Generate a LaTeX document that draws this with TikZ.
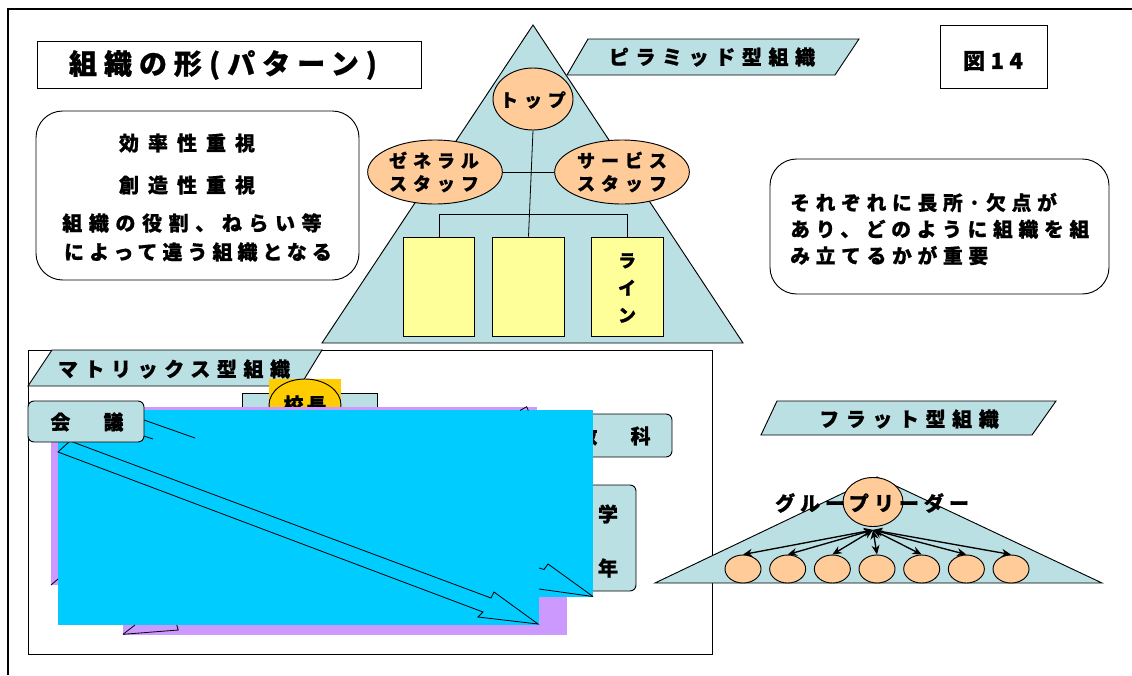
\documentclass[tikz,border=0pt]{standalone}
\usepackage{fontspec}
\newfontfamily\jpA{Noto Sans CJK JP}[LetterSpace=45,BoldFeatures={FakeBold=0.8}]
\newfontfamily\jpB{Noto Sans CJK JP}[LetterSpace=33,BoldFeatures={FakeBold=0.8}]
\newfontfamily\jpC{Noto Sans CJK JP}[LetterSpace=25,BoldFeatures={FakeBold=0.8}]
\newfontfamily\jpD{Noto Sans CJK JP}[LetterSpace=15,BoldFeatures={FakeBold=0.8}]
\newfontfamily\jpE{Noto Sans CJK JP}[LetterSpace=29,BoldFeatures={FakeBold=0.8}]
\usetikzlibrary{shapes.geometric,arrows.meta}
\definecolor{lblue}{RGB}{187,224,227}
\definecolor{peach}{RGB}{255,204,153}
\definecolor{lyellow}{RGB}{255,255,153}
\definecolor{lpurple}{RGB}{204,153,255}
\definecolor{skyc}{RGB}{0,204,255}
\definecolor{goldc}{RGB}{255,204,0}
\tikzset{
  ln/.style={draw=black,line width=0.7pt},
  tx/.style={inner sep=0pt,font=\jpB\bfseries\fontsize{15}{18}\selectfont},
  txs/.style={inner sep=0pt,font=\jpB\bfseries\fontsize{13.5}{17.25}\selectfont,align=center},
  peachell/.style={ellipse,ln,fill=peach,inner sep=0pt},
  ybox/.style={rectangle,ln,fill=lyellow,minimum width=53.5pt,minimum height=74.25pt,inner sep=0pt},
  bluebox/.style={rectangle,ln,fill=lblue,rounded corners=4.5pt,inner sep=0pt},
  whitebox/.style={rectangle,ln,fill=white,rounded corners=20pt,inner sep=0pt},
  flatarr/.style={line width=1pt,{Stealth[length=7pt,width=6pt]}-{Stealth[length=7pt,width=6pt]}},
  frag/.style={line width=0.6pt,draw=black}
}
\begin{document}
\begin{tikzpicture}[x=0.75pt,y=-0.75pt]
\useasboundingbox (0,0) rectangle (1132,675);
\fill[white] (0,0) rectangle (1132,675);
% outer frame
\draw[line width=2.2pt] (8,675) -- (8,9) -- (1132,9);

% title
\node[rectangle,ln,minimum width=288pt,minimum height=35.25pt,inner sep=0pt] (titlebox) at (229,64.5) {};
\node[inner sep=0pt,font=\jpC\bfseries\fontsize{21}{24}\selectfont] (title) at (223,65) {組織の形(パターン)};

% left rounded box
\node[whitebox,minimum width=242.25pt,minimum height=126.75pt] (leftbox) at (197.5,195.5) {};
\node[inner sep=0pt,font=\jpA\bfseries\fontsize{15}{18}\selectfont] (l1) at (187,143) {効率性重視};
\node[inner sep=0pt,font=\jpA\bfseries\fontsize{15}{18}\selectfont] (l2) at (187,185) {創造性重視};
\node[inner sep=0pt,font=\jpB\bfseries\fontsize{15}{18}\selectfont] (l3) at (192,223) {組織の役割、ねらい等};
\node[inner sep=0pt,font=\jpC\bfseries\fontsize{15}{18}\selectfont] (l4) at (198,252) {によって違う組織となる};

% pyramid
\draw[ln,fill=lblue] (533,25) -- (743,343) -- (322,343) -- cycle;
\draw[ln,fill=lblue] (588,39) -- (859,39) -- (835,75) -- (567,75) -- cycle;
\node[tx] (pyrlabel) at (712,57) {ピラミッド型組織};

\node[peachell,minimum width=60pt,minimum height=46.5pt] (top) at (533,99) {};
\node[txs] (toptxt) at (533,100) {トップ};
\node[peachell,minimum width=101pt,minimum height=48pt] (gen) at (435,172) {};
\node[txs] (gentxt) at (434,172) {ゼネラル\\スタッフ};
\node[peachell,minimum width=101pt,minimum height=48pt] (svc) at (622,172) {};
\node[txs] (svctxt) at (622,172) {サービス\\スタッフ};

\node[ybox] (box1) at (439,286.5) {};
\node[ybox] (box2) at (528.5,286.5) {};
\node[ybox] (box3) at (627.5,286.5) {};
\node[inner sep=0pt,font=\jpB\bfseries\fontsize{13.5}{20.5}\selectfont,align=center] (line) at (627,288) {ラ\\イ\\ン};

\draw[line width=0.6pt] (top.south) -- (box2.north);
\draw[line width=0.6pt] (gen.east) -- (svc.west);
\draw[line width=0.6pt] (box1.north) -- ++(0,-22) -| (box3.north);

% figure number
\node[rectangle,ln,minimum width=80.25pt,minimum height=47.25pt,inner sep=0pt] (figbox) at (993.5,56.5) {};
\node[inner sep=0pt,font=\jpC\bfseries\fontsize{16.5}{20}\selectfont] (figtxt) at (993,61) {図14};

% right rounded box
\node[whitebox,minimum width=254.25pt,minimum height=101.25pt] (rightbox) at (939.5,226.5) {};
\node[inner sep=0pt,anchor=west,align=left,font=\jpE\bfseries\fontsize{14.8}{19.9}\selectfont] (righttxt) at (790,229) {それぞれに長所·欠点が\\あり、どのように組織を組\\み立てるかが重要};

% matrix
\draw[ln] (28,350) rectangle (712,654);
\draw[ln,fill=lblue] (52,350) -- (322,350) -- (300,386) -- (28,386) -- cycle;
\node[tx] (matlabel) at (174,369) {マトリックス型組織};

\draw[ln,fill=lblue] (242,393) rectangle (377,440);
\fill[goldc] (269,379) rectangle (341,425);
\node[ellipse,ln,fill=goldc,minimum width=54pt,minimum height=39pt,inner sep=0pt] (kocho) at (305,405) {};
\node[inner sep=0pt,font=\jpD\bfseries\fontsize{15}{18}\selectfont] (kochotxt) at (305,405) {校長};

\node[bluebox,minimum width=87.75pt,minimum height=32.25pt] (kyoka) at (613.5,435.5) {};
\node[tx] (kyokatxt) at (614,436) {教　科};
\node[bluebox,minimum width=45.75pt,minimum height=79.5pt] (gakunen) at (605.5,538) {};
\node[inner sep=0pt,font=\jpB\bfseries\fontsize{15}{40.5}\selectfont,align=center] (gakunentxt) at (608,541) {学\\年};

\fill[lpurple] (51,407) rectangle (537,585);
\fill[lpurple] (123,590) rectangle (567,635);
\fill[skyc] (58,410) rectangle (593,597);
\fill[skyc] (58,410) rectangle (539,625);

\draw[frag,fill=skyc] (58,452) -- (70,441) -- (491,598) -- (494,592) -- (538,624) -- (478,617) -- (483,612) -- cycle;
\draw[frag] (144,420) -- (195,438);
\draw[frag] (144,436) -- (153,439);
\draw[frag] (539,568) -- (544,569.5) -- (548,564) -- (593,596.5);
\draw[frag] (539,589) -- (593,596.5);
\draw[frag] (520,410.5) -- (526.7,406.7) -- (528.3,410.5);
\draw[frag] (51,585) -- (58,579);
\draw[frag] (123,634.3) -- (135,625);
\draw[frag] (123,634.3) -- (178.3,630) -- (176.7,625);

\node[bluebox,minimum width=87pt,minimum height=30.75pt] (kaigi) at (86,421.5) {};
\node[tx] (kaigitxt) at (87,422) {会　議};

% flat
\draw[ln,fill=lblue] (777,401) -- (1056,401) -- (1032,435) -- (761,435) -- cycle;
\node[tx] (flatlabel) at (909,419) {フラット型組織};
\draw[ln,fill=lblue] (877,477) -- (1102,583) -- (655,583) -- cycle;
\node[peachell,minimum width=45pt,minimum height=36.75pt] (leader) at (873,502) {};
\node[inner sep=0pt,font=\jpC\bfseries\fontsize{15}{18}\selectfont] (leadertxt) at (872,503) {グループリーダー};
\coordinate (hub) at (873,530);
\foreach \i in {1,...,7} {
  \node[peachell,minimum width=27pt,minimum height=21pt] (s\i) at ({743+44.67*(\i-1)},569) {};
}
\foreach \i in {1,...,7} {
  \draw[flatarr] (hub) -- (s\i.north);
}
\end{tikzpicture}
\end{document}
